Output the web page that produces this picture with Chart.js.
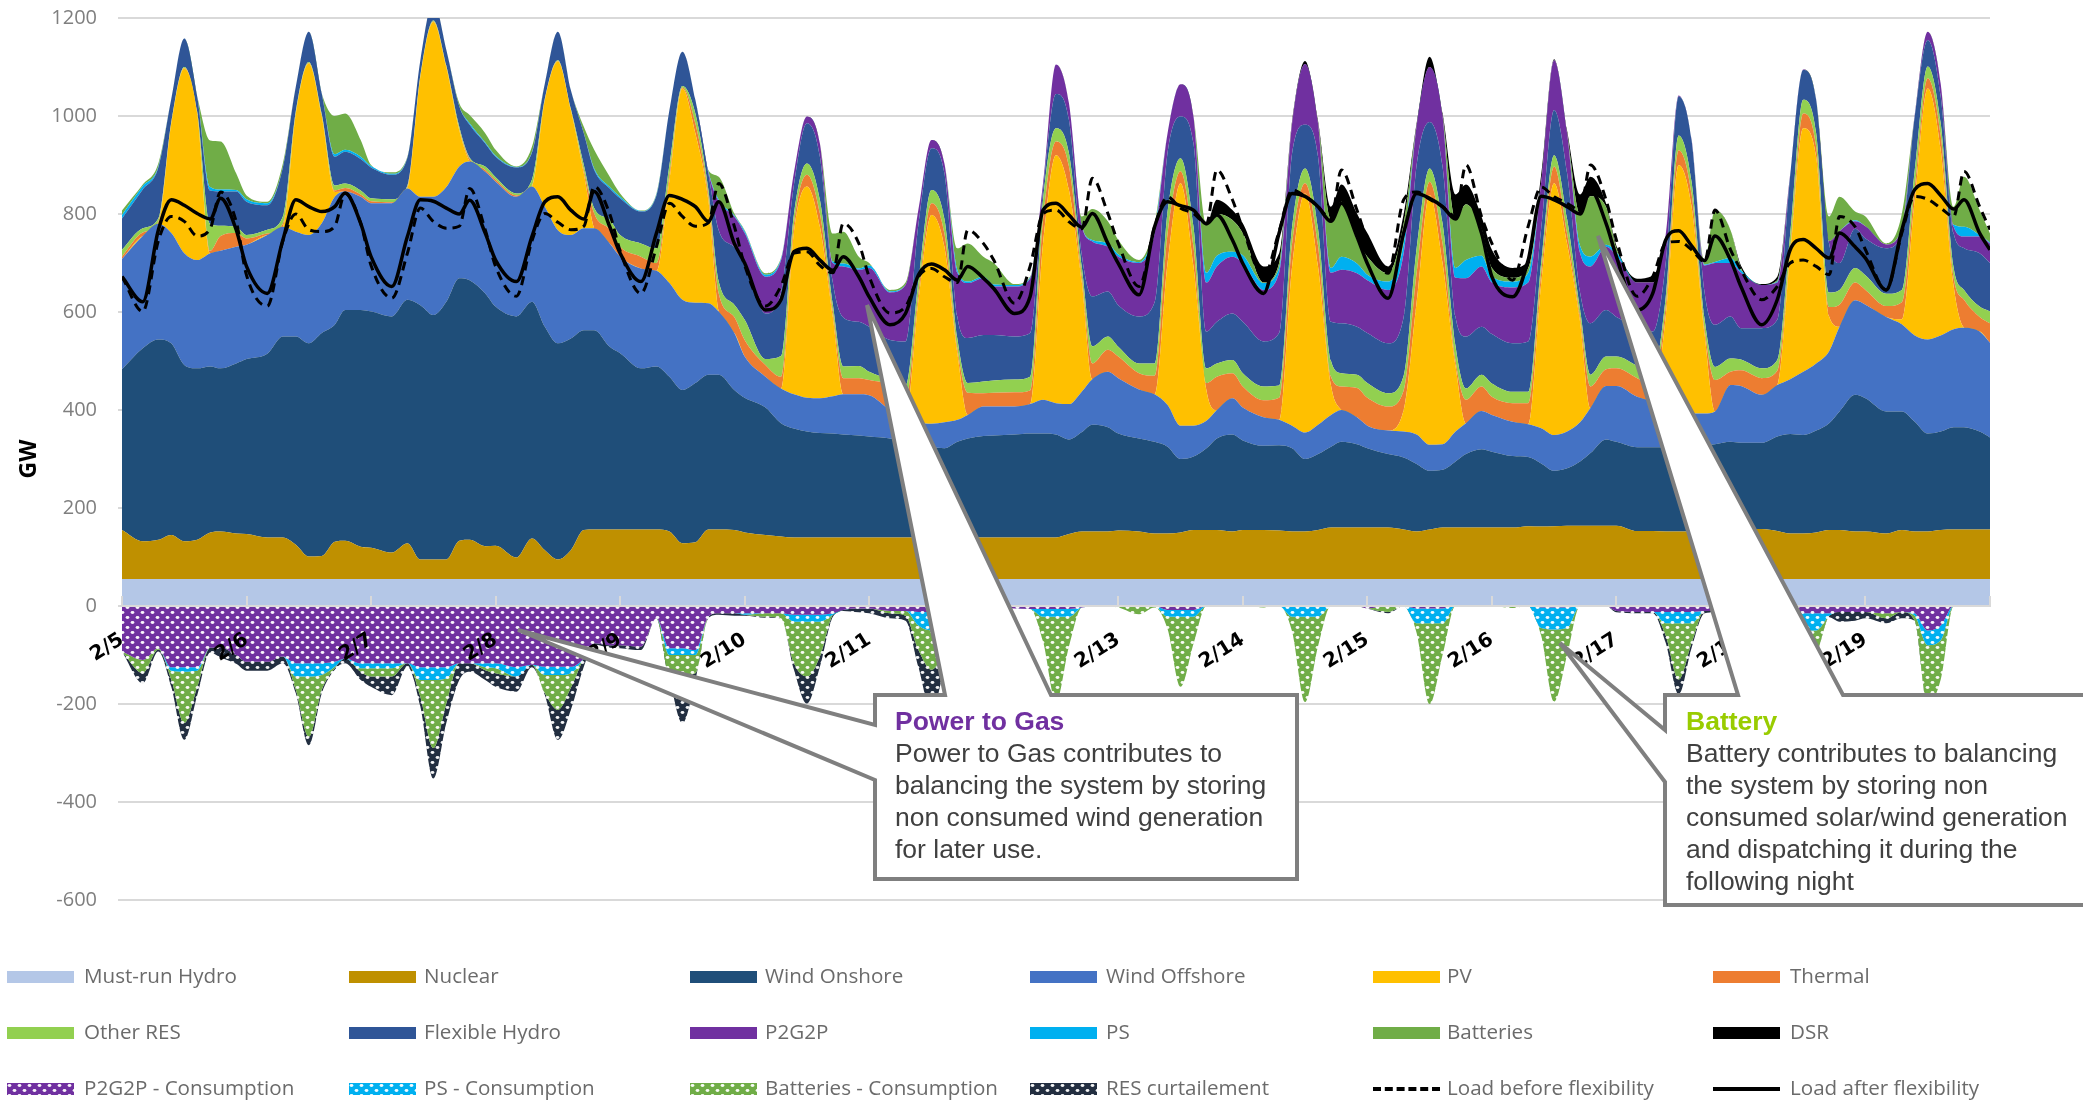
<!DOCTYPE html>
<html><head><meta charset="utf-8">
<script src="https://cdn.jsdelivr.net/npm/chart.js@4/dist/chart.umd.min.js"></script>
<style>
html,body{margin:0;padding:0;background:#fff;width:2083px;height:1100px;overflow:hidden}
#wrap{position:relative;width:2083px;height:1100px}
canvas#c{position:absolute;left:0;top:0}
svg#call{position:absolute;left:0;top:0}
.note{position:absolute;top:705px;font:26.5px/32px "Liberation Sans",Arial,sans-serif;color:#404040;white-space:nowrap}
.note b{display:block}
.lg{position:absolute;height:12px}
.lt{position:absolute;font:20.6px/24px "Open Sans",sans-serif;color:#6b6b6b;white-space:nowrap}
</style></head><body>
<div id="wrap">
<canvas id="c" width="2083" height="1100"></canvas>
<svg id="call" width="2083" height="1100">
<polygon points="875,695 945,695 867,305 1051,695 1297,695 1297,879 875,879 875,780 518,630 875,725" fill="#fff" stroke="#7f7f7f" stroke-width="4" stroke-linejoin="miter"/>
<polygon points="1665,695 1738,695 1598,236 1843,695 2090,695 2090,905 1665,905 1665,782 1560,643 1665,730" fill="#fff" stroke="#7f7f7f" stroke-width="4" stroke-linejoin="miter"/>
</svg>
<div class="note" style="left:895px"><b style="color:#7030A0">Power to Gas</b>Power to Gas contributes to<br>balancing the system by storing<br>non consumed wind generation<br>for later use.</div>
<div class="note" style="left:1686px"><b style="color:#99CC00">Battery</b>Battery contributes to balancing<br>the system by storing non<br>consumed solar/wind generation<br>and dispatching it during the<br>following night</div>
</div>
<script>
const dayLabels = ['2/5','2/6','2/7','2/8','2/9','2/10','2/11','2/12','2/13','2/14','2/15','2/16','2/17','2/18','2/19'];
const dayHours = [0,4,7,9.5,12,14.5,17,19,22];
const yTicks = [-600,-400,-200,0,200,400,600,800,1000,1200];

const mustRunHydro = [
55,55,55,55,55,55,55,55,55, 55,55,55,55,55,55,55,55,55, 55,55,55,55,55,55,55,55,55,
55,55,55,55,55,55,55,55,55, 55,55,55,55,55,55,55,55,55, 55,55,55,55,55,55,55,55,55,
55,55,55,55,55,55,55,55,55, 55,55,55,55,55,55,55,55,55, 55,55,55,55,55,55,55,55,55,
55,55,55,55,55,55,55,55,55, 55,55,55,55,55,55,55,55,55, 55,55,55,55,55,55,55,55,55,
55,55,55,55,55,55,55,55,55, 55,55,55,55,55,55,55,55,55, 55,55,55,55,55,55,55,55,55, 55];
const nuclear = [
100,77,80,90,77,80,95,97,93, 92,85,85,70,46,47,76,78,66, 64,54,73,40,40,40,78,80,67,
68,44,83,59,40,59,100,101,101, 101,101,101,97,73,75,101,101,100, 95,90,87,85,85,85,85,85,85,
85,85,85,85,85,85,85,85,85, 85,85,85,85,85,92,97,97,97, 99,97,93,93,95,100,100,100,97,
100,100,99,97,97,100,105,105,105, 105,105,101,97,101,105,105,105,105, 105,105,108,107,108,109,109,109,109,
109,98,98,97,97,97,97,97,97, 101,102,98,93,93,95,100,100,97, 97,93,100,97,97,100,101,101,101, 101];
const windOnshore = [
328,394,409,391,360,350,339,333,347, 357,375,410,425,435,455,443,471,483, 482,482,497,519,499,526,536,530,516,
488,492,483,456,441,432,408,407,373, 360,329,333,316,313,325,316,316,286, 275,260,231,222,216,213,212,210,208,
206,202,195,187,185,182,195,202,207, 208,210,212,212,210,193,203,218,213, 198,190,187,177,150,150,167,187,198,
183,172,174,170,148,155,165,175,170, 162,150,147,138,120,118,135,150,160, 155,146,141,129,113,117,131,148,176,
171,171,171,172,172,174,176,178,183, 177,176,193,203,201,208,218,242,279, 272,249,242,224,200,201,209,209,200, 188];
const windOffshore = [
225,229,236,225,228,221,231,240,238, 233,242,224,214,221,224,261,242,231, 221,231,227,221,241,234,228,242,248,
255,244,235,245,231,211,208,208,211, 197,204,195,191,184,164,146,129,116, 84,63,71,70,69,71,76,82,84,
84,58,50,48,47,53,45,48,60, 59,57,60,69,64,72,83,93,113, 113,100,97,85,68,63,56,58,74,
67,58,52,46,54,60,65,65,55, 46,48,53,60,53,52,61,63,78, 75,70,67,72,73,75,80,92,109,
114,103,94,86,76,67,65,67,116, 116,98,105,112,129,137,147,173,193, 191,193,178,176,192,196,200,203,204, 193];
const pv = [
0,0,0,224,377,299,0,0,0, 0,0,0,241,350,218,10,0,0, 0,0,0,245,357,245,74,0,0,
0,0,0,218,344,255,112,0,0, 0,0,0,210,431,346,211,0,0, 0,0,0,333,431,350,162,0,0,
0,0,0,250,426,358,136,0,0, 0,0,0,319,506,437,221,0,0, 0,0,0,290,495,325,62,0,0,
0,0,0,325,488,323,60,0,0, 0,0,44,270,510,370,134,0,0, 0,0,0,295,514,384,205,0,0,
0,0,0,181,500,422,162,0,0, 0,0,0,257,497,422,71,0,0, 0,0,10,278,512,379,87,0,0, 0];
const thermal = [
5,7,4,1,1,1,5,30,28, 13,3,6,1,1,1,3,7,5, 4,2,3,1,1,1,2,5,4,
4,3,2,1,1,1,7,30,28, 20,24,16,11,2,20,9,37,33, 34,24,24,15,24,27,10,33,33,
31,50,35,15,24,27,9,45,27, 28,29,28,48,28,48,11,32,45, 44,33,38,60,24,40,15,68,51,
43,35,45,47,21,42,18,48,60, 57,49,40,60,27,40,10,48,50, 37,38,43,22,34,20,10,44,34,
36,38,32,19,30,25,10,64,27, 32,34,29,10,30,20,19,45,36, 30,22,35,25,21,29,18,57,30, 40];
const otherRes = [
14,9,7,2,2,2,55,21,13, 7,8,15,4,2,4,10,9,8, 6,6,3,2,2,2,5,3,7,
5,4,12,2,2,2,10,11,20, 24,27,30,20,3,20,12,24,25, 41,12,42,20,23,28,15,24,25,
17,12,30,25,27,30,20,20,24, 25,26,28,41,27,27,20,35,27, 20,20,25,45,27,41,30,27,27,
27,28,25,34,30,35,32,27,27, 30,27,30,50,27,41,30,23,24, 27,23,23,20,23,30,15,24,26,
24,25,25,20,30,25,20,27,27, 22,20,22,30,28,28,30,30,30, 30,25,25,35,24,25,20,20,21, 24];
const flexibleHydro = [
64,79,104,47,58,32,68,70,72, 68,50,100,50,62,42,59,65,64, 63,50,57,31,40,32,42,67,47,
42,53,55,31,58,38,65,78,64, 75,65,108,112,70,28,33,105,118, 122,93,130,60,82,88,45,100,90,
92,81,90,115,85,93,45,92,95, 93,88,89,20,70,68,25,102,92, 85,96,125,120,85,170,75,85,95,
105,92,107,150,89,147,80,102,98, 102,102,120,170,95,116,60,106,98, 101,99,103,70,92,93,35,105,95,
81,80,85,70,80,85,55,86,86, 64,82,82,120,61,68,100,55,80, 75,93,115,110,54,55,70,85,109, 99];
const p2g2p = [
0,0,0,0,0,0,0,0,0, 0,0,0,0,0,0,0,0,0, 0,0,0,0,0,0,0,0,0,
0,0,0,0,0,0,0,0,0, 0,0,0,0,0,0,2,58,62, 55,75,65,25,14,27,40,104,106,
120,97,115,30,17,20,90,112,116, 99,102,111,14,60,34,60,112,91, 99,109,140,40,66,55,100,113,116,
120,105,123,61,124,68,100,109,109, 108,109,130,80,112,103,80,119,123, 105,114,120,95,102,82,80,116,129,
125,90,100,58,2,2,55,126,109, 113,88,76,2,1,1,5,65,15, 25,8,10,3,17,26,14,24,34, 40];
const ps = [
7,7,2,0,0,0,7,4,3, 5,4,0,0,0,0,5,4,5, 3,2,0,0,0,0,0,3,2,
2,1,1,0,0,0,0,3,3, 3,1,2,0,0,0,2,4,2, 4,4,3,0,0,0,3,6,3,
5,2,0,0,0,0,5,3,3, 4,3,2,0,0,0,1,3,7, 5,2,10,0,0,0,20,22,10,
16,14,10,0,0,0,10,27,20, 11,17,20,0,0,0,20,37,22, 12,12,20,0,0,0,15,20,4,
7,0,0,0,0,0,2,2,10, 5,0,2,0,0,0,0,0,2, 0,0,2,0,0,0,4,20,3, 2];
const batteries = [
9,3,6,0,0,0,95,98,34, 8,3,8,0,0,0,78,74,34, 2,3,2,0,0,0,6,17,19,
12,1,11,0,0,0,13,38,21, 7,1,2,0,0,0,3,47,4, 2,3,2,0,0,0,57,65,24,
5,3,5,0,0,0,45,78,41, 44,2,2,0,0,0,19,63,45, 29,4,10,0,0,0,100,85,65,
45,1,10,0,0,0,100,112,48, 37,17,40,0,0,0,100,114,55, 18,8,10,0,0,0,65,123,78,
8,0,0,0,0,0,8,106,57, 5,0,3,0,0,0,50,70,18, 20,2,28,0,0,0,37,102,51, 18];
const dsr = [
0,0,0,0,0,0,0,0,0, 0,0,0,0,0,0,0,0,0, 0,0,0,0,0,0,0,0,0,
0,0,0,0,0,0,0,0,0, 0,0,0,0,0,0,0,0,0, 0,0,0,0,0,0,0,0,0,
0,0,0,0,0,0,0,0,0, 0,0,0,0,0,0,0,0,0, 0,0,0,0,0,0,0,29,20,
20,33,20,5,6,5,25,35,54, 48,14,20,5,21,5,50,40,25, 37,20,15,15,2,5,40,40,7,
5,8,15,0,0,0,0,0,0, 5,2,7,0,0,0,0,0,0, 0,0,0,0,0,0,0,0,0, 0];
const p2g2pConsumption = [
-93,-110,-86,-125,-125,-125,-85,-85,-100, -114,-114,-103,-117,-117,-117,-114,-107,-117, -117,-117,-117,-125,-125,-125,-117,-117,-117,
-117,-125,-120,-124,-124,-124,-107,-76,-80, -80,-83,-25,-86,-86,-90,-22,-15,-15, -15,-15,-15,-18,-18,-18,-15,-8,-5,
-5,-10,-10,-12,-12,-12,-8,-5,-5, -3,-5,-6,-6,-6,-6,-3,-1,-1, 0,0,0,-8,-8,-8,0,0,0,
0,0,0,-2,-2,-2,0,0,0, -5,0,0,-5,-5,-5,0,0,0, 0,0,0,-3,-3,-3,0,0,0,
-10,-12,-12,-12,-12,-12,-10,-10,-10, -15,-15,-15,-15,-15,-15,-15,-12,-12, -12,-15,-12,-15,-50,-40,0,0,0, 0];
const psConsumption = [
0,0,0,-7,-9,-7,0,0,0, 0,0,0,-27,-27,-24,-10,0,-10, -10,-10,0,-26,-26,-23,0,0,-8,
-10,-19,0,-17,-17,-13,0,0,0, 0,0,0,-14,-14,-10,0,0,0, -3,0,0,-14,-14,-14,-3,0,0,
0,0,0,-28,-38,-28,0,0,0, 0,0,0,-16,-16,-16,0,0,0, 0,0,0,-14,-14,-14,0,0,0,
0,0,0,-20,-20,-20,0,0,0, 0,0,0,-30,-30,-30,0,0,0, 0,0,0,-42,-45,-42,0,0,0,
0,0,0,-23,-23,-23,0,0,0, 0,0,0,-30,-35,-35,-5,0,0, 0,0,0,-5,-30,-30,0,0,0, 0];
const batteriesConsumption = [
0,-27,-3,-18,-105,-33,0,0,0, 0,0,0,-27,-123,-30,-3,0,-7, -17,-17,0,-34,-139,-51,0,0,-6,
-10,0,0,-37,-71,-30,0,0,0, 0,0,0,-41,-41,-37,0,0,0, 0,-7,-10,-85,-112,-71,0,0,0,
0,-5,-10,-50,-80,-50,0,0,0, 0,0,0,-50,-173,-60,0,0,0, -3,-17,-3,-25,-143,-55,0,0,0,
0,-3,0,-30,-174,-60,0,0,0, 0,-12,0,-20,-165,-65,0,0,0, 0,-4,0,-15,-147,-55,0,0,0,
0,0,0,-25,-115,-40,0,0,0, 0,0,0,-25,-80,-50,0,0,0, 0,-10,0,-10,-120,-80,0,0,0, 0];
const resCurtailment = [
0,-21,-4,-15,-34,-17,-10,-20,-18, -18,-18,-14,-7,-17,-7,-3,-10,-17, -21,-38,-7,-20,-62,-40,-34,-17,-20,
-28,-31,-5,-4,-61,-45,-17,-3,-5, -6,-7,0,-5,-98,-14,-3,-3,-5, -2,-2,0,-13,-55,-21,-4,-2,-8,
-10,-10,-10,-35,-85,-35,-7,-5,-5, 0,0,0,0,0,0,0,0,0, 0,0,0,0,0,0,0,0,0,
0,0,0,0,0,0,0,0,0, 0,-3,0,0,0,0,0,0,0, 0,0,0,0,0,0,0,0,0,
-3,-3,-3,-15,-30,-10,-5,-3,0, 0,0,0,0,0,0,-3,-20,-18, -13,-10,-13,0,0,0,0,0,0, 0];
const loadBefore = [
672,601,745,795,785,755,770,845,785, 675,612,745,800,768,764,775,842,781, 695,628,720,812,785,771,775,852,768,
693,632,745,801,783,768,775,856,800, 725,638,733,822,795,775,782,862,775, 695,612,653,720,723,695,680,781,740,
672,598,611,672,689,672,660,767,740, 706,618,693,801,808,784,770,873,801, 740,652,774,835,812,801,780,890,829,
770,672,765,849,836,815,790,890,808, 747,679,829,845,830,815,795,900,795, 740,665,775,855,835,822,808,900,829,
747,632,672,740,744,727,703,808,727, 686,625,652,700,706,693,676,795,774, 727,645,761,836,830,812,795,887,815, 768];
const loadAfter = [
672,621,767,829,818,801,790,832,768, 693,638,747,829,815,805,815,843,781, 713,652,754,829,826,812,800,828,761,
706,662,754,825,835,808,790,846,774, 720,662,761,838,830,815,785,825,740, 700,604,625,723,730,706,685,713,672,
631,574,597,676,698,686,665,693,669, 648,597,631,808,822,798,773,801,740, 699,635,774,825,817,808,780,798,747,
699,638,761,842,836,815,785,822,754, 699,628,761,842,832,815,790,835,761, 672,631,706,836,829,815,800,849,781,
713,604,638,747,766,735,705,755,706, 652,574,625,727,748,730,710,761,733, 710,645,767,850,862,838,810,829,761, 727];

const hours = [];
dayLabels.forEach((d,i)=>dayHours.forEach(h=>hours.push(i*24+h)));
hours.push(dayLabels.length*24);
const xy = a => a.map((v,i)=>({x:hours[i],y:v}));

function dots(color){
  const t=document.createElement('canvas');t.width=10;t.height=10;
  const g=t.getContext('2d');g.fillStyle=color;g.fillRect(0,0,10,10);
  g.fillStyle='rgba(255,255,255,0.95)';
  [[2.5,2.5],[7.5,7.5]].forEach(p=>{g.beginPath();g.ellipse(p[0],p[1],1.9,1.4,0,0,Math.PI*2);g.fill();});
  return t;
}
const ctx=document.getElementById('c').getContext('2d');
const P=c=>ctx.createPattern(dots(c),'repeat');
const C={must:'#B4C7E7',nuc:'#BF9000',on:'#1F4E79',off:'#4472C4',pv:'#FFC000',th:'#ED7D31',res:'#92D050',fx:'#2F5597',p2g:'#7030A0',ps:'#00B0F0',bat:'#70AD47',dsr:'#000000',cur:'#222E40'};
const area=(label,data,color,stack,first)=>({label,data:xy(data),stack,backgroundColor:color,borderWidth:0,pointRadius:0,cubicInterpolationMode:'monotone',fill:first?'origin':'-1'});
const datasets=[
 area('Must-run Hydro',mustRunHydro,C.must,'pos',true),
 area('Nuclear',nuclear,C.nuc,'pos'),
 area('Wind Onshore',windOnshore,C.on,'pos'),
 area('Wind Offshore',windOffshore,C.off,'pos'),
 area('PV',pv,C.pv,'pos'),
 area('Thermal',thermal,C.th,'pos'),
 area('Other RES',otherRes,C.res,'pos'),
 area('Flexible Hydro',flexibleHydro,C.fx,'pos'),
 area('P2G2P',p2g2p,C.p2g,'pos'),
 area('PS',ps,C.ps,'pos'),
 area('Batteries',batteries,C.bat,'pos'),
 area('DSR',dsr,C.dsr,'pos'),
 area('P2G2P - Consumption',p2g2pConsumption,P(C.p2g),'neg',true),
 area('PS - Consumption',psConsumption,P(C.ps),'neg'),
 area('Batteries - Consumption',batteriesConsumption,P(C.bat),'neg'),
 area('RES curtailement',resCurtailment,P(C.cur),'neg'),
 {label:'Load before flexibility',data:xy(loadBefore),stack:'before',order:-1,borderColor:'#000',borderWidth:3,borderDash:[9,6],pointRadius:0,cubicInterpolationMode:'monotone',fill:false},
 {label:'Load after flexibility',data:xy(loadAfter),stack:'after',order:-2,borderColor:'#000',borderWidth:3.5,pointRadius:0,cubicInterpolationMode:'monotone',fill:false}
];
new Chart(ctx,{type:'line',data:{datasets},options:{
 responsive:false,animation:false,devicePixelRatio:1,
 layout:{padding:{left:0,top:18,right:93,bottom:200}},
 plugins:{legend:{display:false},tooltip:{enabled:false}},
 scales:{
  x:{type:'linear',position:{y:0},min:0,max:360,
   afterFit(s){s.paddingTop=0;s.paddingBottom=0;},
   border:{color:'#D9D9D9',width:2,z:1},
   grid:{drawOnChartArea:false,drawTicks:true,tickLength:-11,color:'#D9D9D9',lineWidth:2,z:1},
   afterBuildTicks(s){s.ticks=dayLabels.map((d,i)=>({value:i*24})).concat([{value:360}]);},
   ticks:{z:1,autoSkip:false,minRotation:32,maxRotation:32,padding:33,color:'#000',
    font:{family:'"DejaVu Sans"',size:20,weight:'bold'},
    callback:v=>dayLabels[v/24]||''}},
  y:{stacked:true,min:yTicks[0],max:yTicks[yTicks.length-1],
   afterFit(s){s.width=122;s.paddingTop=0;s.paddingBottom=0;},
   border:{display:false},
   grid:{color:'#D9D9D9',lineWidth:2,tickLength:4},
   title:{display:true,text:'GW',color:'#000',font:{family:'"Open Sans"',size:23,weight:'bold'},padding:{top:16,bottom:0}},
   ticks:{stepSize:200,padding:21,color:'#7F7F7F',font:{family:'"Open Sans"',size:20},callback:v=>String(v)}}
 }}});

// legend
const legendRows=[
 ['Must-run Hydro','Nuclear','Wind Onshore','Wind Offshore','PV','Thermal'],
 ['Other RES','Flexible Hydro','P2G2P','PS','Batteries','DSR'],
 ['P2G2P - Consumption','PS - Consumption','Batteries - Consumption','RES curtailement','Load before flexibility','Load after flexibility']];
const swX=[7,349,690,1030,1373,1713], txtX=[84,424,765,1106,1447,1790], rowY=[977,1033,1089];
const wrap=document.getElementById('wrap');
const fills={'Must-run Hydro':C.must,'Nuclear':C.nuc,'Wind Onshore':C.on,'Wind Offshore':C.off,'PV':C.pv,'Thermal':C.th,'Other RES':C.res,'Flexible Hydro':C.fx,'P2G2P':C.p2g,'PS':C.ps,'Batteries':C.bat,'DSR':C.dsr};
const pats={'P2G2P - Consumption':C.p2g,'PS - Consumption':C.ps,'Batteries - Consumption':C.bat,'RES curtailement':C.cur};
legendRows.forEach((row,r)=>row.forEach((name,c)=>{
  const s=document.createElement('div');s.className='lg';
  s.style.left=swX[c]+'px';s.style.width='67px';s.style.top=(rowY[r]-6)+'px';
  if(fills[name])s.style.background=fills[name];
  else if(pats[name]){s.style.backgroundImage='url('+dots(pats[name]).toDataURL()+')';}
  else{s.style.height='0';s.style.top=(rowY[r]-2)+'px';s.style.borderTop=(name.includes('before')?'4px dashed #000':'4px solid #000');}
  wrap.appendChild(s);
  const t=document.createElement('div');t.className='lt';t.textContent=name;
  t.style.left=txtX[c]+'px';t.style.top=(rowY[r]-14)+'px';
  wrap.appendChild(t);
}));
</script>
</body></html>
